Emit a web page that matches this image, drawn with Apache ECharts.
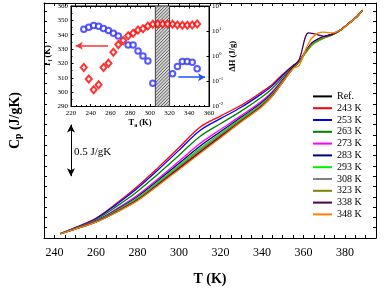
<!DOCTYPE html>
<html><head><meta charset="utf-8">
<script src="https://cdn.jsdelivr.net/npm/echarts@6/dist/echarts.min.js"></script>
<style>html,body{margin:0;padding:0;background:#fff}#c{width:388px;height:291px}</style>
</head><body><div id="c"></div>
<script>
// ---------- main chart data ----------
const T_GRID = [243, 250, 260, 270, 280, 290, 300, 310, 320, 330, 340, 345, 350, 355, 358, 361, 362.5, 364, 367, 370, 374, 378, 382, 386, 388.5];
const CP_REF  = [0.943,0.987,1.055,1.153,1.265,1.415,1.569,1.725,1.877,2.030,2.178,2.278,2.413,2.545, 2.612,2.702,2.743,2.782,2.822,2.848,2.875,2.919,2.984,3.051,3.11];
const CP_243  = [0.943,1.001,1.092,1.237,1.400,1.583,1.775,1.972,2.083,2.188,2.318,2.390,2.487,2.573, 2.615,2.710,2.752,2.790,2.828,2.852,2.878,2.920,2.985,3.052,3.11];
const CP_253  = [0.943,0.999,1.087,1.227,1.383,1.562,1.750,1.941,2.058,2.168,2.301,2.376,2.478,2.570, 2.614,2.708,2.750,2.790,2.830,2.855,2.880,2.921,2.985,3.052,3.11];
const CP_263  = [0.943,0.996,1.079,1.207,1.351,1.522,1.701,1.883,2.009,2.131,2.268,2.350,2.460,2.563, 2.610,2.695,2.735,2.772,2.812,2.842,2.872,2.918,2.984,3.051,3.11];
const CP_273  = [0.943,0.992,1.068,1.183,1.314,1.476,1.644,1.814,1.952,2.087,2.229,2.319,2.439,2.555, 2.611,2.700,2.742,2.780,2.820,2.846,2.874,2.918,2.984,3.051,3.11];
const CP_283  = [0.943,0.991,1.065,1.174,1.300,1.458,1.622,1.788,1.930,2.071,2.214,2.307,2.432,2.552, 2.612,2.705,2.747,2.787,2.827,2.852,2.878,2.920,2.985,3.051,3.11];
const CP_293  = [0.943,0.990,1.062,1.167,1.289,1.445,1.605,1.768,1.913,2.058,2.203,2.298,2.425,2.550, 2.609,2.693,2.733,2.770,2.810,2.840,2.871,2.917,2.983,3.050,3.11];
const CP_308  = [0.943,0.989,1.059,1.162,1.280,1.434,1.593,1.753,1.901,2.048,2.194,2.291,2.421,2.548, 2.610,2.698,2.738,2.776,2.816,2.844,2.873,2.918,2.984,3.051,3.11];
const CP_323  = [0.943,0.988,1.058,1.159,1.275,1.427,1.584,1.742,1.892,2.041,2.188,2.286,2.418,2.547, 2.611,2.700,2.740,2.778,2.818,2.845,2.873,2.918,2.984,3.051,3.11];
const CP_338  = [0.943,0.988,1.056,1.154,1.268,1.419,1.574,1.730,1.882,2.033,2.181,2.281,2.414,2.563, 2.631,2.852,2.890,2.886,2.871,2.857,2.876,2.919,2.984,3.051,3.11];
const CP_348  = [0.943,0.987,1.054,1.150,1.261,1.410,1.563,1.717,1.871,2.025,2.174,2.275,2.410,2.544, 2.573,2.724,2.789,2.838,2.888,2.897,2.890,2.919,2.984,3.051,3.11];
const SERIES_NAMES = ['Ref.', '243 K', '253 K', '263 K', '273 K', '283 K', '293 K', '308 K', '323 K', '338 K', '348 K'];
const SERIES_VALUES = [CP_REF, CP_243, CP_253, CP_263, CP_273, CP_283, CP_293, CP_308, CP_323, CP_338, CP_348];
const SERIES_COLORS = ['#000000', '#ff0000', '#0000ff', '#008000', '#ff00ff', '#000080', '#00ee00', '#808080', '#808000', '#4b0050', '#ff8000'];
const X_TICK_LABELS = [240, 260, 280, 300, 320, 340, 360, 380];
const SCALE_BAR = [248, 1.5, 2.0]; // T, from, to (0.5 J/gK)

// ---------- inset data ----------
const TA_RED = [233,238,243,248,253,258,263,268,273,278,283,288,293,298,303,308,313,318,323,328,333,338,343,348];
const TF     = [317.1,309.2,301.6,305.1,317.1,320.2,327.8,333.1,335.9,339.3,341.0,343.3,344.2,346.1,347.3,347.5,347.5,347.5,347.3,346.8,346.6,346.6,346.8,347.5];
const TA_BLUE = [233,238,243,248,253,258,263,268,278,283,288,293,298,303,323,328,333,338,343,348];
const DH      = [11.75,14.13,16.6,15.5,12.6,10.7,8.32,6.46,2.82,2.82,1.62,1.02,0.646,0.0851,0.20,0.389,0.617,0.617,0.575,0.316];
const HATCH_TA = [305.6, 320];
const RED_ARROW = [257.5, 224.8, 332.4];
const BLUE_ARROW = [328.8, 355.9, 0.147];

const FF = '"Liberation Serif","Times New Roman",serif';

const chart = echarts.init(document.getElementById('c'), null, {renderer: 'canvas'});

const mainSeries = SERIES_NAMES.map((n, k) => ({
  name: n, type: 'line', xAxisIndex: 0, yAxisIndex: 0,
  data: T_GRID.map((t, i) => [t, SERIES_VALUES[k][i]]),
  showSymbol: false, smooth: 0.35,
  lineStyle: {color: SERIES_COLORS[k], width: 1.3}, itemStyle: {color: SERIES_COLORS[k]},
  animation: false, z: 3,
  markLine: k === 0 ? {
    silent: true, symbol: ['arrow', 'arrow'], symbolSize: [6, 8], animation: false,
    lineStyle: {color: '#000', width: 1, type: 'solid'}, label: {show: false},
    data: [[{coord: [SCALE_BAR[0], SCALE_BAR[1]]}, {coord: [SCALE_BAR[0], SCALE_BAR[2]]}]]
  } : undefined
}));

function hatchItem(params, api) {
  const p0 = api.coord([api.value(0), 360]);
  const p1 = api.coord([api.value(1), 290]);
  const x0 = p0[0], y0 = p0[1], x1 = p1[0], y1 = p1[1];
  const children = [{type: 'rect', shape: {x: x0, y: y0, width: x1 - x0, height: y1 - y0},
    style: {fill: '#d4d4d4', stroke: null}}];
  const step = 3.2;
  // lines x + y = c ("/" direction), clipped to rect
  for (let c = x0 + y0 + step; c < x1 + y1; c += step) {
    let ax = Math.max(x0, c - y1), bx = Math.min(x1, c - y0);
    if (bx <= ax) continue;
    children.push({type: 'line', shape: {x1: ax, y1: c - ax, x2: bx, y2: c - bx},
      style: {stroke: '#333', lineWidth: 0.7}});
  }
  children.push({type: 'rect', shape: {x: x0, y: y0, width: x1 - x0, height: y1 - y0},
    style: {fill: null, stroke: '#444', lineWidth: 1}});
  return {type: 'group', children};
}

const tickIn = (len) => ({show: true, inside: true, length: len, lineStyle: {color: '#000', width: 1}});
const axLine = {show: true, lineStyle: {color: '#000', width: 1}};

const option = {
  backgroundColor: '#fff',
  animation: false,
  grid: [
    {left: 43, right: 12, top: 3, bottom: 51, show: false},
    {left: 71, right: 179, top: 6, bottom: 184.5, show: true, backgroundColor: '#fff', borderColor: '#000', borderWidth: 1}
  ],
  legend: {
    data: SERIES_NAMES, orient: 'vertical', left: 313, top: 90.5, padding: 0,
    icon: 'rect', itemWidth: 19, itemHeight: 2, itemGap: 0,
    textStyle: {fontFamily: FF, fontSize: 10, color: '#000', lineHeight: 11.8}
  },
  xAxis: [
    {type: 'value', gridIndex: 0, min: 235, max: 395, interval: 5, position: 'bottom',
     axisLine: axLine, axisTick: tickIn(3), splitLine: {show: false},
     axisLabel: {margin: 9, fontFamily: FF, fontSize: 12, color: '#000',
       formatter: v => X_TICK_LABELS.includes(v) ? String(v) : ''},
     name: 'T (K)', nameLocation: 'middle', nameGap: 34,
     nameTextStyle: {fontFamily: FF, fontSize: 14, fontWeight: 'bold', color: '#000'}},
    {type: 'value', gridIndex: 0, min: 235, max: 395, interval: 5, position: 'top',
     axisLine: axLine, axisTick: tickIn(3), axisLabel: {show: false}, splitLine: {show: false}},
    {type: 'value', gridIndex: 1, min: 220, max: 360, interval: 20, position: 'bottom',
     axisLine: axLine, axisTick: tickIn(2.5), minorTick: {show: true, splitNumber: 4, length: 1.5, lineStyle: {color: '#000'}},
     splitLine: {show: false},
     axisLabel: {margin: 3, fontFamily: FF, fontSize: 7, color: '#000'},
     name: '{a|T}{s|a}{a| (K)}', nameLocation: 'middle', nameGap: 11,
     nameTextStyle: {rich: {
       a: {fontFamily: FF, fontSize: 8.5, fontWeight: 'bold', color: '#000', lineHeight: 11},
       s: {fontFamily: FF, fontSize: 6, fontWeight: 'bold', color: '#000', lineHeight: 11, verticalAlign: 'bottom'}}}},
    {type: 'value', gridIndex: 1, min: 220, max: 360, interval: 20, position: 'top',
     axisLine: axLine, axisTick: tickIn(2.5), minorTick: {show: true, splitNumber: 4, length: 1.5, lineStyle: {color: '#000'}},
     axisLabel: {show: false}, splitLine: {show: false}}
  ],
  yAxis: [
    {type: 'value', gridIndex: 0, min: 0.9, max: 3.18, interval: 0.1, position: 'left',
     axisLine: axLine, axisTick: tickIn(3), axisLabel: {show: false}, splitLine: {show: false},
     name: '{a|C}{s|p}{a| (J/gK)}', nameLocation: 'middle', nameGap: 20,
     nameTextStyle: {rich: {
       a: {fontFamily: FF, fontSize: 14, fontWeight: 'bold', color: '#000', lineHeight: 18},
       s: {fontFamily: FF, fontSize: 9.5, fontWeight: 'bold', color: '#000', lineHeight: 18, verticalAlign: 'bottom'}}}},
    {type: 'value', gridIndex: 0, min: 0.9, max: 3.18, interval: 0.1, position: 'right',
     axisLine: axLine, axisTick: tickIn(3), axisLabel: {show: false}, splitLine: {show: false}},
    {type: 'value', gridIndex: 1, min: 290, max: 360, interval: 10, position: 'left',
     axisLine: axLine, axisTick: tickIn(2.5), minorTick: {show: true, splitNumber: 2, length: 1.5, lineStyle: {color: '#000'}},
     splitLine: {show: false},
     axisLabel: {margin: 3, fontFamily: FF, fontSize: 7, color: '#000'},
     name: '{a|T}{s|f}{a| (K)}', nameLocation: 'middle', nameGap: 15,
     nameTextStyle: {rich: {
       a: {fontFamily: FF, fontSize: 8.5, fontWeight: 'bold', color: '#000', lineHeight: 11},
       s: {fontFamily: FF, fontSize: 6, fontWeight: 'bold', color: '#000', lineHeight: 11, verticalAlign: 'bottom'}}}},
    {type: 'log', gridIndex: 1, logBase: 10, min: 0.01, max: 100, position: 'right',
     axisLine: axLine, axisTick: tickIn(2.5), splitLine: {show: false},
     axisLabel: {margin: 3, color: '#000',
       formatter: v => '{b|10}{e|' + Math.round(Math.log10(v)) + '}',
       rich: {b: {fontFamily: FF, fontSize: 7, color: '#000', lineHeight: 10},
              e: {fontFamily: FF, fontSize: 5, color: '#000', lineHeight: 10, verticalAlign: 'top'}}},
     name: 'ΔH (J/g)', nameLocation: 'middle', nameGap: 19,
     nameTextStyle: {fontFamily: FF, fontSize: 8.5, fontWeight: 'bold', color: '#000'}}
  ],
  series: mainSeries.concat([
    {type: 'custom', name: 'hatch', xAxisIndex: 2, yAxisIndex: 2, z: 4, silent: true,
     data: [[HATCH_TA[0], HATCH_TA[1]]], renderItem: hatchItem, clip: true},
    {type: 'scatter', name: 'Tf', xAxisIndex: 2, yAxisIndex: 2, z: 6,
     data: TA_RED.map((t, i) => [t, TF[i]]),
     symbol: 'emptyDiamond', symbolSize: [6, 7],
     itemStyle: {color: '#ff0000', borderColor: '#ff0000', borderWidth: 1.4},
     markLine: {silent: true, symbol: ['none', 'arrow'], symbolSize: [6, 7], animation: false,
       lineStyle: {color: '#ff3030', width: 1.5, type: 'solid'}, label: {show: false},
       data: [[{coord: [RED_ARROW[0], RED_ARROW[2]]}, {coord: [RED_ARROW[1], RED_ARROW[2]]}]]}},
    {type: 'scatter', name: 'dH', xAxisIndex: 2, yAxisIndex: 3, z: 6,
     data: TA_BLUE.map((t, i) => [t, DH[i]]),
     symbol: 'emptyCircle', symbolSize: 5.5,
     itemStyle: {color: '#3030ff', borderColor: '#3030ff', borderWidth: 1.2},
     markLine: {silent: true, symbol: ['none', 'arrow'], symbolSize: [6, 7], animation: false,
       lineStyle: {color: '#2050ff', width: 1.5, type: 'solid'}, label: {show: false},
       data: [[{coord: [BLUE_ARROW[0], BLUE_ARROW[2]]}, {coord: [BLUE_ARROW[1], BLUE_ARROW[2]]}]]}}
  ]),
  graphic: [
    {type: 'text', left: 74, top: 147, z: 10,
     style: {text: '0.5 J/gK', font: '11px ' + FF, fill: '#000'}}
  ]
};
chart.setOption(option);
</script></body></html>
